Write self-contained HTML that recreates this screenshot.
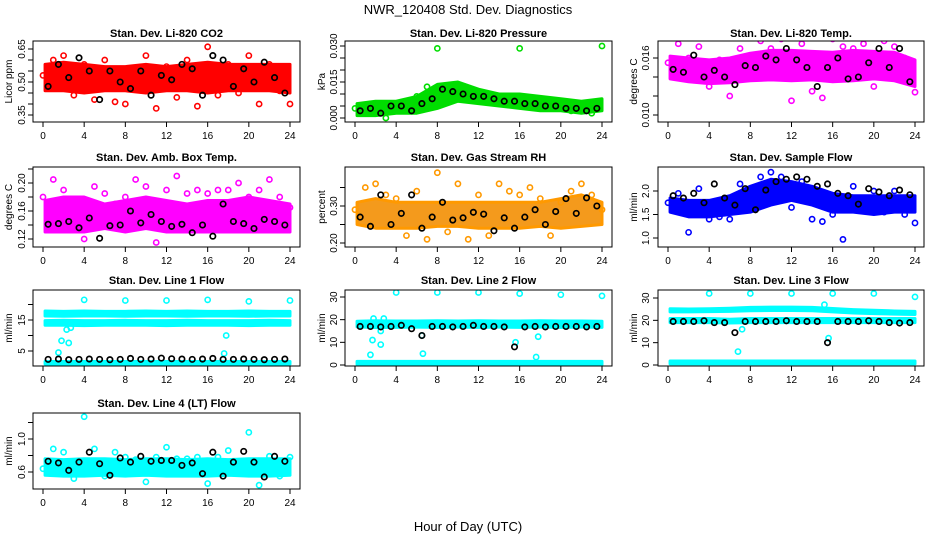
<!DOCTYPE html>
<html><head><meta charset="utf-8"><style>
body{margin:0;background:#fff;}
svg text{font-family:"Liberation Sans",Arial,sans-serif;fill:#000;}
</style></head><body>
<svg id="c" width="936" height="540" viewBox="0 0 936 540" xmlns="http://www.w3.org/2000/svg">
<text x="468" y="14" text-anchor="middle" font-size="13">NWR_120408  Std. Dev. Diagnostics</text>
<text x="468" y="531" text-anchor="middle" font-size="13">Hour of Day (UTC)</text>
</svg>
<script>
// shared x data
const bandHours=[0,2,4,6,8,10,12,14,16,18,20,22,24];
const scatHours=[0,1,2,3,4,5,6,7,8,9,10,11,12,13,14,15,16,17,18,19,20,21,22,23,24];
const blackHours=[0.5,1.5,2.5,3.5,4.5,5.5,6.5,7.5,8.5,9.5,10.5,11.5,12.5,13.5,14.5,15.5,16.5,17.5,18.5,19.5,20.5,21.5,22.5,23.5];
const xTicks=[0,4,8,12,16,20,24];

// CO2
const co2Lo=[0.46,0.46,0.45,0.46,0.46,0.45,0.46,0.46,0.45,0.46,0.46,0.46,0.45];
const co2Hi=[0.58,0.59,0.58,0.57,0.57,0.58,0.57,0.58,0.59,0.58,0.58,0.58,0.58];
const co2Scat=[0.53,0.60,0.62,0.44,0.58,0.42,0.60,0.41,0.40,0.55,0.62,0.38,0.57,0.43,0.60,0.39,0.66,0.44,0.58,0.45,0.62,0.40,0.58,0.46,0.40];
const co2Black=[0.48,0.58,0.52,0.61,0.55,0.42,0.55,0.50,0.47,0.55,0.44,0.53,0.51,0.58,0.56,0.44,0.62,0.60,0.48,0.56,0.50,0.59,0.52,0.45];
// Pressure
const prLo=[0.001,0.001,0.002,0.002,0.004,0.007,0.006,0.005,0.004,0.003,0.003,0.002,0.003];
const prHi=[0.006,0.007,0.007,0.009,0.014,0.015,0.012,0.010,0.010,0.009,0.008,0.007,0.008];
const prScat=[0.004,0.002,0.005,0.000,0.006,0.003,0.009,0.013,0.029,0.011,0.012,0.010,0.009,0.008,0.006,0.008,0.029,0.007,0.005,0.006,0.004,0.003,0.005,0.002,0.030];
const prBlack=[0.003,0.004,0.002,0.005,0.005,0.003,0.006,0.008,0.012,0.011,0.010,0.009,0.009,0.008,0.007,0.007,0.006,0.006,0.005,0.005,0.004,0.004,0.003,0.004];
// Li-820 Temp
const tLo=[0.0138,0.0135,0.0133,0.0134,0.0136,0.0137,0.0136,0.0137,0.0135,0.0136,0.0138,0.0136,0.0130];
const tHi=[0.0162,0.0160,0.0158,0.0160,0.0165,0.0168,0.0168,0.0167,0.0166,0.0168,0.0167,0.0166,0.0158];
const tScat=[0.0155,0.0175,0.0160,0.0172,0.0130,0.0158,0.0120,0.0170,0.0140,0.0178,0.0170,0.0180,0.0115,0.0175,0.0125,0.0118,0.0180,0.0172,0.0170,0.0175,0.0130,0.0178,0.0172,0.0160,0.0124];
const tBlack=[0.0148,0.0145,0.0163,0.0140,0.0147,0.0140,0.0132,0.0152,0.0150,0.0162,0.0158,0.0170,0.0158,0.0150,0.0130,0.0150,0.0160,0.0138,0.0140,0.0155,0.0170,0.0150,0.0170,0.0135];
// Amb box temp
const abLo=[0.13,0.13,0.13,0.135,0.13,0.135,0.13,0.13,0.13,0.13,0.13,0.13,0.13];
const abHi=[0.175,0.18,0.18,0.17,0.175,0.18,0.175,0.17,0.175,0.175,0.18,0.175,0.17];
const abScat=[0.18,0.205,0.19,0.175,0.12,0.195,0.185,0.17,0.18,0.205,0.195,0.115,0.19,0.21,0.185,0.19,0.185,0.19,0.19,0.2,0.18,0.19,0.205,0.18,0.165];
const abBlack=[0.141,0.142,0.145,0.136,0.150,0.121,0.139,0.140,0.160,0.143,0.155,0.145,0.138,0.141,0.129,0.140,0.124,0.170,0.145,0.142,0.135,0.148,0.145,0.140];
// RH
const rhLo=[0.25,0.24,0.24,0.24,0.245,0.245,0.24,0.24,0.24,0.245,0.24,0.245,0.25];
const rhHi=[0.31,0.32,0.31,0.31,0.31,0.31,0.31,0.31,0.31,0.31,0.32,0.33,0.31];
const rhScat=[0.29,0.35,0.36,0.33,0.32,0.22,0.34,0.21,0.39,0.23,0.36,0.21,0.33,0.22,0.36,0.34,0.33,0.35,0.32,0.22,0.31,0.34,0.36,0.33,0.29];
const rhBlack=[0.270,0.245,0.330,0.250,0.280,0.330,0.240,0.270,0.310,0.262,0.268,0.283,0.278,0.233,0.268,0.240,0.270,0.290,0.250,0.285,0.320,0.280,0.322,0.300];
// Sample flow
const sfLo=[1.55,1.45,1.45,1.5,1.55,1.7,1.8,1.7,1.55,1.55,1.5,1.55,1.55];
const sfHi=[1.85,1.8,1.8,1.9,2.1,2.25,2.2,2.1,1.95,1.9,1.9,1.9,1.9];
const sfScat=[1.75,1.95,1.12,2.05,1.40,1.45,1.40,2.15,2.05,2.30,2.40,2.30,1.65,2.20,1.40,1.35,1.50,0.97,2.10,1.60,2.00,1.55,2.00,1.50,1.32];
const sfBlack=[1.9,1.85,1.95,1.75,2.15,1.85,1.70,2.05,1.60,2.02,2.20,2.25,2.30,2.25,2.10,2.15,1.95,1.90,1.72,2.05,1.98,1.90,2.02,1.92];
// Line 1
const l1TopLo=[16.3,16.2,16.3,16.3,16.2,16.3,16.3,16.2,16.3,16.3,16.2,16.3,16.3];
const l1TopHi=[17.9,17.8,17.9,17.8,17.8,17.9,17.8,17.9,17.8,17.8,17.9,17.8,17.8];
const l1MidLo=[13.3,13.3,13.2,13.3,13.3,13.3,13.2,13.3,13.3,13.3,13.2,13.3,13.3];
const l1MidHi=[14.8,14.9,14.8,14.8,14.9,14.8,14.8,14.9,14.8,14.8,14.8,14.9,14.8];
const l1BotLo=[0.8,0.8,0.8,0.8,0.8,0.8,0.8,0.8,0.8,0.8,0.8,0.8,0.8];
const l1BotHi=[1.6,1.6,1.6,1.6,1.6,1.6,1.6,1.6,1.6,1.6,1.6,1.6,1.6];
const l1OutX=[4,8,12,16,20,24,1.5,1.8,2.5,2.3,2.7,17.8,17.6];
const l1OutY=[21.5,21.3,21.3,21.5,21.0,21.3,4.5,8.3,7.6,11.9,12.5,10,4.2];
const l1Black=[2.3,2.4,2.2,2.3,2.4,2.3,2.2,2.3,2.6,2.3,2.4,2.7,2.5,2.4,2.3,2.4,2.6,2.3,2.3,2.4,2.3,2.2,2.3,2.4];
// Line 2
const l2TopLo=[16.8,16.5,16.6,16.7,16.6,16.7,16.6,16.7,16.6,16.7,16.6,16.7,16.6];
const l2TopHi=[19.3,19.5,19.4,19.4,19.5,19.4,19.5,19.4,19.4,19.5,19.4,19.4,19.3];
const l2BotLo=[0.2,0.2,0.2,0.2,0.2,0.2,0.2,0.2,0.2,0.2,0.2,0.2,0.2];
const l2BotHi=[1.6,1.6,1.6,1.6,1.6,1.6,1.6,1.6,1.6,1.6,1.6,1.6,1.6];
const l2OutX=[4,8,12,16,20,24,1.5,1.7,2.5,1.8,2.8,2.5,6.6,6.5,17.6,17.8,15.6];
const l2OutY=[32,32,32,31.5,31,30.5,4.5,11,9,20.5,20.5,15,5,13,3.5,12.5,10];
const l2Black=[17,17,16.8,17,17.5,16,13,17,17,16.8,17,17.5,17,17,16.8,8,16.8,17,16.8,17,17,17,16.8,17];
// Line 3
const l3TopLo=[23.8,23.8,23.9,24.0,24.3,24.4,24.4,24.3,23.8,23.3,23.0,22.8,22.6];
const l3TopHi=[25.2,25.1,25.2,25.4,25.8,25.9,25.9,25.8,25.3,24.8,24.5,24.2,24.0];
const l3MidLo=[19.0,19.0,19.0,18.8,19.0,19.0,19.0,19.0,19.0,19.0,19.0,19.0,19.0];
const l3MidHi=[20.8,20.8,20.8,20.5,20.8,20.8,20.8,20.8,20.8,20.8,20.8,20.8,20.8];
const l3BotLo=[0.5,0.5,0.5,0.5,0.5,0.5,0.5,0.5,0.5,0.5,0.5,0.5,0.5];
const l3BotHi=[1.8,1.8,1.8,1.8,1.8,1.8,1.8,1.8,1.8,1.8,1.8,1.8,1.8];
const l3OutX=[4,8,12,16,20,24,6.8,7.2,15.6,15.2];
const l3OutY=[32,32,32,32,32,30.5,6,16,12,27];
const l3Black=[19.5,19.5,19.5,19.8,19,19,14.5,19.5,19.5,19.5,19.5,19.8,19.5,19.5,19.5,10,19.5,19.5,19.5,19.8,19.5,19,18.8,19];
// Line 4
const l4Lo=[0.56,0.55,0.55,0.56,0.55,0.56,0.55,0.55,0.55,0.56,0.55,0.55,0.56];
const l4Hi=[0.76,0.75,0.76,0.76,0.75,0.76,0.76,0.75,0.76,0.75,0.76,0.76,0.76];
const l4Scat=[0.64,0.88,0.84,0.52,1.27,0.88,0.55,0.84,0.78,0.75,0.48,0.78,0.90,0.76,0.76,0.78,0.46,0.78,0.86,0.72,1.08,0.44,0.79,0.55,0.78];
const l4Black=[0.73,0.71,0.62,0.72,0.84,0.70,0.56,0.77,0.72,0.79,0.73,0.74,0.74,0.68,0.71,0.58,0.84,0.55,0.72,0.85,0.72,0.54,0.79,0.73];

const NS='http://www.w3.org/2000/svg';
const svg=document.getElementById('c');
function el(tag,attrs,parent){const e=document.createElementNS(NS,tag);for(const k in attrs)e.setAttribute(k,attrs[k]);(parent||svg).appendChild(e);return e;}

const cols=[{bx0:33,bx1:300,x0:43,x1:290,yl:12,tl:25},{bx0:345,bx1:612,x0:355,x1:602,yl:325,tl:337},{bx0:658,bx1:924,x0:668,x1:915,yl:637,tl:649}];
const rows=[{by0:41,by1:122,ty:37},{by0:167,by1:247,ty:161},{by0:290,by1:366,ty:284},{by0:413,by1:489,ty:407}];

function panel(o){
  const c=cols[o.col],r=rows[o.row];
  const g=el('g',{});
  
  
  const xs=h=>c.x0+(h/24)*(c.x1-c.x0);
  const ys=v=>o.py0+(v-o.v0)*(o.py1-o.py0)/(o.v1-o.v0);
  const clip='cl'+o.name;
  const cp=el('clipPath',{id:clip},g);el('rect',{x:c.bx0,y:r.by0,width:c.bx1-c.bx0,height:r.by1-r.by0},cp);
  const plot=el('g',{'clip-path':'url(#'+clip+')'},g);
  (o.bands||[]).forEach(([lo,hi])=>{
    let pts=bandHours.map((h,i)=>xs(Math.max(h,0.2))+','+ys(hi[i]));
    pts=pts.concat(bandHours.slice().reverse().map((h,j)=>{const i=bandHours.length-1-j;return xs(Math.max(h,0.2))+','+ys(lo[i]);}));
    const p=el('polygon',{points:pts.join(' '),fill:o.fill||o.color,stroke:o.color,'stroke-width':3,'stroke-linejoin':'round'},plot);
    
    
  });
  const sx=o.scatX||scatHours;
  (o.scat||[]).forEach((v,i)=>{
    const e=el('circle',{cx:xs(sx[i]),cy:ys(v),r:2.6,fill:'none',stroke:o.color,'stroke-width':1.6},plot);
    
    
  });
  (o.black||[]).forEach((v,i)=>{
    const e=el('circle',{cx:xs(blackHours[i]),cy:ys(v),r:2.7,fill:'none',stroke:'#000','stroke-width':1.7},plot);
    
    
  });
  el('rect',{x:c.bx0,y:r.by0,width:c.bx1-c.bx0,height:r.by1-r.by0,fill:'none',stroke:'#000','stroke-width':1},g);
  const t=el('text',{x:(c.bx0+c.bx1)/2,y:r.ty,'text-anchor':'middle','font-size':11,'font-weight':'bold'},g);t.textContent=o.title;
  
  
  el('line',{x1:c.x0,x2:c.x1,y1:r.by1,y2:r.by1,stroke:'#000'},g);
  xTicks.forEach(h=>{el('line',{x1:xs(h),x2:xs(h),y1:r.by1,y2:r.by1+5,stroke:'#000'},g);
    const tt=el('text',{x:xs(h),y:r.by1+17,'text-anchor':'middle','font-size':10},g);tt.textContent=h;
    
    });
  el('line',{x1:c.bx0,x2:c.bx0,y1:ys(o.yt[0]),y2:ys(o.yt[o.yt.length-1]),stroke:'#000'},g);
  o.yt.forEach(v=>{el('line',{x1:c.bx0-5,x2:c.bx0,y1:ys(v),y2:ys(v),stroke:'#000'},g);});
  o.yl.forEach(([v,s])=>{const tt=el('text',{x:c.tl,y:ys(v),'text-anchor':'middle','font-size':10,transform:`rotate(-90 ${c.tl} ${ys(v)})`},g);tt.textContent=s;
    
    });
  const yt=el('text',{x:c.yl,y:(r.by0+r.by1)/2,'text-anchor':'middle','font-size':10,transform:`rotate(-90 ${c.yl} ${(r.by0+r.by1)/2})`},g);yt.textContent=o.ylab;
  
  
}

panel({name:'co2-panel',col:0,row:0,title:'Stan. Dev. Li-820 CO2',ylab:'Licor ppm',color:'#ff0000',v0:0.35,v1:0.65,py0:115,py1:49,bands:[[co2Lo,co2Hi]],scat:co2Scat,black:co2Black,yt:[0.35,0.40,0.45,0.50,0.55,0.60,0.65],yl:[[0.35,'0.35'],[0.5,'0.50'],[0.65,'0.65']]});
panel({name:'pressure-panel',col:1,row:0,title:'Stan. Dev. Li-820 Pressure',ylab:'kPa',color:'#00dd00',v0:0,v1:0.03,py0:118,py1:46,bands:[[prLo,prHi]],scat:prScat,black:prBlack,yt:[0,0.005,0.01,0.015,0.02,0.025,0.03],yl:[[0,'0.000'],[0.015,'0.015'],[0.03,'0.030']]});
panel({name:'licor-temp-panel',col:2,row:0,title:'Stan. Dev. Li-820 Temp.',ylab:'degrees C',color:'#ff00ff',v0:0.010,v1:0.016,py0:115,py1:58,bands:[[tLo,tHi]],scat:tScat,black:tBlack,yt:[0.010,0.012,0.014,0.016],yl:[[0.010,'0.010'],[0.016,'0.016']]});
panel({name:'amb-box-temp-panel',col:0,row:1,title:'Stan. Dev. Amb. Box Temp.',ylab:'degrees C',color:'#ff00ff',v0:0.12,v1:0.20,py0:239,py1:183,bands:[[abLo,abHi]],scat:abScat,black:abBlack,yt:[0.12,0.14,0.16,0.18,0.20,0.22],yl:[[0.12,'0.12'],[0.16,'0.16'],[0.20,'0.20']]});
panel({name:'gas-rh-panel',col:1,row:1,title:'Stan. Dev. Gas Stream RH',ylab:'percent',color:'#ff9900',fill:'#f49a1c',v0:0.20,v1:0.30,py0:243,py1:206,bands:[[rhLo,rhHi]],scat:rhScat,black:rhBlack,yt:[0.20,0.25,0.30,0.35],yl:[[0.20,'0.20'],[0.30,'0.30']]});
panel({name:'sample-flow-panel',col:2,row:1,title:'Stan. Dev. Sample Flow',ylab:'ml/min',color:'#0000ff',v0:1.0,v1:2.0,py0:238,py1:191,bands:[[sfLo,sfHi]],scat:sfScat,black:sfBlack,yt:[1.0,1.5,2.0],yl:[[1.0,'1.0'],[1.5,'1.5'],[2.0,'2.0']]});
panel({name:'line1-flow-panel',col:0,row:2,title:'Stan. Dev. Line 1 Flow',ylab:'ml/min',color:'#00ffff',v0:0,v1:15,py0:366.5,py1:320,bands:[[l1TopLo,l1TopHi],[l1MidLo,l1MidHi],[l1BotLo,l1BotHi]],scat:l1OutY,scatX:l1OutX,black:l1Black,yt:[5,10,15,20],yl:[[5,'5'],[15,'15']]});
panel({name:'line2-flow-panel',col:1,row:2,title:'Stan. Dev. Line 2 Flow',ylab:'ml/min',color:'#00ffff',v0:0,v1:30,py0:365,py1:297,bands:[[l2TopLo,l2TopHi],[l2BotLo,l2BotHi]],scat:l2OutY,scatX:l2OutX,black:l2Black,yt:[0,10,20,30],yl:[[0,'0'],[10,'10'],[20,'20'],[30,'30']]});
panel({name:'line3-flow-panel',col:2,row:2,title:'Stan. Dev. Line 3 Flow',ylab:'ml/min',color:'#00ffff',v0:0,v1:30,py0:365,py1:298,bands:[[l3TopLo,l3TopHi],[l3MidLo,l3MidHi],[l3BotLo,l3BotHi]],scat:l3OutY,scatX:l3OutX,black:l3Black,yt:[0,10,20,30],yl:[[0,'0'],[10,'10'],[20,'20'],[30,'30']]});
panel({name:'line4-flow-panel',col:0,row:3,title:'Stan. Dev. Line 4 (LT) Flow',ylab:'ml/min',color:'#00ffff',v0:0.6,v1:1.0,py0:472,py1:439,bands:[[l4Lo,l4Hi]],scat:l4Scat,black:l4Black,yt:[0.6,0.8,1.0,1.2],yl:[[0.6,'0.6'],[1.0,'1.0']]});
</script>
</body></html>
